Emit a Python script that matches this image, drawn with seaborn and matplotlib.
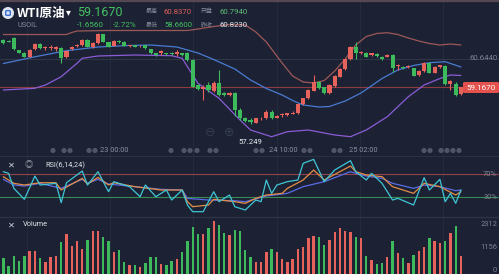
import numpy as np
import pandas as pd
import matplotlib
matplotlib.use("Agg")
import matplotlib.pyplot as plt
import matplotlib.patches as mpatches
from matplotlib.lines import Line2D
import seaborn as sns

# ---------------- data ----------------
opens = [61.66, 61.63, 61.75, 61.11, 60.99, 60.78, 61.17, 61.45, 61.23, 61.22,
         61.21, 61.22, 60.75, 61.21, 61.32, 61.40, 61.685, 61.275, 61.485, 61.95,
         61.54, 61.34, 61.63, 61.57, 61.33, 61.40, 61.32, 61.40, 61.17, 60.96,
         60.95, 60.975, 60.99, 60.92, 60.95, 60.975, 60.61, 59.29, 59.07, 59.29,
         58.97, 59.41, 58.89, 58.765, 58.855, 57.975, 57.54, 57.45, 57.307, 57.53,
         57.54, 57.886, 57.58, 57.686, 57.71, 57.78, 57.80, 58.29, 58.59, 58.99,
         59.465, 59.17, 58.855, 59.24, 59.73, 60.12, 60.644, 61.307, 60.95, 60.99,
         60.87, 60.92, 60.78, 60.78, 60.87, 60.265, 60.255, 60.24, 60.16, 59.80,
         60.03, 60.43, 59.94, 60.22, 60.29, 59.37, 59.345, 58.82]
closes = [61.50, 61.555, 61.17, 61.00, 60.78, 61.13, 61.45, 61.22, 61.265, 61.29,
          61.265, 60.70, 61.10, 61.265, 61.40, 61.685, 61.31, 61.485, 61.975, 61.57,
          61.31, 61.623, 61.555, 61.34, 61.38, 61.31, 61.37, 61.22, 60.96, 60.87,
          61.055, 60.90, 60.90, 61.04, 60.87, 60.61, 59.20, 59.08, 59.185, 59.03,
          59.42, 58.765, 58.765, 58.855, 57.975, 57.54, 57.40, 57.345, 57.54, 57.58,
          57.886, 57.54, 57.67, 57.79, 57.80, 57.83, 58.29, 58.59, 59.03, 59.465,
          59.12, 58.855, 59.29, 59.765, 60.12, 60.644, 61.307, 60.99, 61.03, 60.78,
          60.96, 60.82, 60.644, 60.87, 60.17, 60.344, 60.17, 60.29, 59.79, 60.03,
          60.43, 59.94, 60.255, 60.344, 59.345, 59.50, 58.765, 59.167]
highs = [61.71, 61.66, 61.82, 61.13, 61.03, 61.19, 61.50, 61.50, 61.34, 61.40,
         61.34, 61.29, 61.13, 61.34, 61.45, 61.71, 61.71, 61.555, 62.045, 61.975,
         61.555, 61.66, 61.66, 61.61, 61.42, 61.42, 61.40, 61.42, 61.21, 61.00,
         61.13, 61.00, 61.03, 61.13, 60.975, 61.03, 60.66, 59.34, 59.29, 59.465,
         59.50, 60.08, 58.92, 58.92, 58.90, 58.08, 57.607, 57.53, 57.58, 57.63,
         57.95, 57.975, 57.71, 57.83, 57.84, 57.90, 58.34, 58.63, 59.08, 59.82,
         59.50, 59.21, 59.34, 59.82, 60.16, 60.686, 61.37, 61.57, 61.08, 61.03,
         61.00, 60.95, 60.82, 60.92, 60.90, 60.40, 60.29, 60.344, 60.185, 60.055,
         60.50, 60.475, 60.29, 60.37, 60.344, 59.555, 59.465, 59.21]
lows = [61.45, 61.53, 61.13, 60.97, 60.765, 60.765, 61.13, 61.19, 61.13, 61.13,
        61.08, 60.465, 60.71, 61.13, 61.29, 61.34, 61.29, 61.24, 61.45, 61.555,
        61.29, 61.318, 61.50, 61.32, 61.29, 61.29, 61.265, 61.19, 60.92, 60.84,
        60.87, 60.87, 60.87, 60.84, 60.84, 60.555, 59.185, 59.03, 58.50, 58.92,
        58.90, 58.71, 58.71, 58.71, 57.66, 57.45, 57.345, 57.249, 57.29, 57.475,
        57.486, 57.50, 57.54, 57.63, 57.66, 57.74, 57.765, 58.24, 58.555, 58.95,
        59.08, 58.82, 58.82, 59.185, 59.69, 60.08, 60.607, 60.644, 60.90, 60.74,
        60.82, 60.79, 60.607, 60.74, 59.99, 60.08, 60.13, 60.19, 59.765, 59.765,
        59.975, 59.90, 59.90, 60.19, 59.29, 59.03, 58.71, 58.765]
volumes = [838, 469, 972, 704, 955, 1206, 1206, 838, 637, 921,
           955, 1675, 2044, 1458, 1709, 1290, 1759, 2228, 2211, 1927,
           1709, 1173, 1257, 637, 503, 503, 385, 620, 921, 921,
           553, 503, 720, 804, 1139, 1709, 2429, 2044, 2044, 2379,
           2714, 2513, 2094, 2010, 2262, 2228, 1257, 921, 637, 637,
           1139, 1307, 1139, 787, 637, 804, 1290, 1424, 1843, 1960,
           1893, 1508, 1759, 2144, 2379, 2211, 2144, 1893, 1843, 972,
           754, 536, 620, 888, 1709, 1123, 838, 586, 1005, 1206,
           1424, 1843, 1726, 1591, 1709, 2128, 2480, 972]

boll_up_idx = [0, 12, 13, 14, 20, 26, 35, 37, 40, 43, 46, 48, 50, 53, 55, 57, 59, 61, 63,
               65, 67, 69, 71, 73, 75, 77, 79, 81, 83, 85, 87]
boll_up = [61.949, 61.949, 62.054, 62.133, 62.160, 62.160, 62.160, 62.239, 62.370, 62.476,
           62.449, 62.081, 61.554, 60.449, 59.765, 59.449, 59.397, 59.528, 60.028,
           60.660, 61.397, 61.844, 62.002, 62.044, 61.949, 61.765, 61.607, 61.476,
           61.397, 61.449, 61.397]
boll_mid_idx = [0, 6, 12, 18, 24, 28, 33, 37, 40, 44, 47, 50, 53, 55, 57, 60, 62, 65, 68,
                72, 75, 78, 81, 84, 87]
boll_mid = [60.423, 60.776, 61.097, 61.291, 61.370, 61.397, 61.291, 60.976, 60.633, 60.133,
            59.555, 59.107, 58.765, 58.476, 58.239, 58.133, 58.160, 58.449, 58.870,
            59.633, 60.081, 60.318, 60.465, 60.518, 60.239]
boll_low_idx = [0, 6, 8, 11, 14, 15, 18, 25, 32, 34, 37, 41, 45, 47, 51, 54, 58, 63, 66,
                69, 73, 77, 80, 83, 85, 87]
boll_low = [59.028, 59.118, 59.291, 59.728, 60.433, 60.697, 60.818, 60.870, 60.833, 60.697,
            59.381, 58.591, 57.449, 56.923, 56.570, 56.833, 56.923, 56.660, 56.570,
            56.923, 57.623, 58.675, 59.291, 59.633, 59.818, 59.791]

rsi6_idx = [0, 1, 2, 4, 6, 7, 10, 11, 12, 15, 16, 18, 20, 21, 24, 26, 27, 29, 31, 32, 34,
            35, 36, 38, 40, 41, 43, 44, 46, 48, 49, 50, 51, 52, 54, 56, 57, 59, 61, 63,
            66, 67, 69, 70, 72, 74, 75, 78, 80, 81, 83, 84, 85, 86, 87]
rsi6 = [74.6, 71.7, 45.6, 26.5, 67.0, 51.4, 54.3, 20.7, 55.4, 75.7, 51.4, 74.6, 39.8, 57.2,
        48.5, 31.1, 51.4, 31.1, 42.7, 25.3, 42.7, 16.6, 5.0, 5.0, 39.8, 22.4, 34.0, 13.7,
        7.9, 25.3, 22.4, 60.1, 36.9, 51.4, 57.2, 60.1, 89.1, 96.0, 57.2, 77.5, 93.7, 74.6,
        60.1, 71.7, 54.3, 25.3, 28.2, 16.6, 64.1, 42.7, 61.3, 22.4, 36.9, 19.6, 42.7]
rsi14_idx = [0, 2, 4, 7, 10, 11, 15, 16, 18, 20, 21, 25, 30, 34, 35, 36, 39, 40, 44, 46, 48,
             50, 53, 54, 57, 59, 61, 66, 67, 69, 72, 74, 78, 80, 83, 86, 87]
rsi14 = [65.9, 54.3, 51.4, 55.4, 55.4, 42.7, 63.0, 53.1, 64.7, 51.4, 55.4, 48.5, 42.7, 42.7,
         22.4, 13.7, 16.6, 26.5, 22.4, 19.5, 28.2, 34.0, 36.9, 45.6, 60.1, 77.5, 60.1, 84.4,
         74.6, 68.8, 65.9, 48.5, 36.9, 54.3, 48.5, 34.0, 39.8]
rsi24_idx = [0, 2, 4, 7, 11, 15, 16, 18, 20, 25, 30, 34, 35, 39, 44, 46, 50, 54, 57, 61, 66,
             67, 69, 72, 74, 78, 80, 83, 86, 87]
rsi24 = [61.3, 51.4, 49.7, 54.3, 45.6, 61.3, 54.3, 61.3, 53.1, 48.5, 43.9, 42.7, 28.2, 25.3,
         24.1, 22.4, 32.3, 36.9, 48.5, 57.2, 74.6, 71.7, 67.0, 63.0, 54.3, 45.6, 51.4, 48.5,
         41.5, 42.7]

last_price = 59.1670
grid_price = 60.6440
low_idx, low_price = 47, 57.249
vol_ticks = [2312, 1156, 0]
rsi_levels = [70, 30]
time_labels = ["23 00:00", "24 10:00", "25 02:00"]

# ---------------- style ----------------
BG = "#1c2233"
RED = "#e7625b"
GREEN = "#3dbb5c"
GRAY = "#848a98"
sns.set_style("dark")
plt.rcParams["font.family"] = ["Noto Sans CJK SC", "DejaVu Sans"]
plt.rcParams["axes.facecolor"] = BG

W, H = 499, 274
fig = plt.figure(figsize=(W / 100, H / 100), dpi=100)
fig.patch.set_facecolor(BG)


def fx(px):
    return px / W


def fy(py):
    return 1 - py / H


X0, DX = 3.33, 5.26
XLIM = (-X0 / DX, (W - X0) / DX)
GRID_X = [(p - X0) / DX for p in (26.7, 110, 193.3, 276.7, 360, 443.3)]

ax = fig.add_axes([0, fy(155), 1, 155 / H])
axr = fig.add_axes([0, fy(216), 1, 61 / H])
axv = fig.add_axes([0, 0, 1, 58 / H])
for a in (ax, axr, axv):
    a.set_facecolor(BG)
    for s in a.spines.values():
        s.set_visible(False)
    for gx in GRID_X:
        a.axvline(gx, color="#262d40", lw=0.6, zorder=0)

idx = np.arange(len(opens))
o, c = np.array(opens), np.array(closes)
up = c >= o
cols = np.where(up, RED, GREEN)

# ---- main price panel ----
ax.axhline(grid_price, color="#323a4d", lw=0.6, zorder=0)
ax.axhline(last_price, xmax=463 / W, color="#8e3c42", lw=0.8, zorder=1)
sns.lineplot(x=boll_up_idx, y=boll_up, ax=ax, color="#9c5858", lw=0.9, zorder=2)
sns.lineplot(x=boll_mid_idx, y=boll_mid, ax=ax, color="#4a7bd2", lw=0.9, zorder=2)
sns.lineplot(x=boll_low_idx, y=boll_low, ax=ax, color="#8a5cd6", lw=0.9, zorder=2)
ax.vlines(idx, lows, highs, colors=cols, lw=0.8, zorder=3)
body_lo = np.minimum(o, c)
body_h = np.maximum(np.abs(c - o), 0.025)
ax.bar(idx, body_h, bottom=body_lo, width=0.78, color=cols, linewidth=0, zorder=4)
ax.set_xlim(XLIM)
ax.set_ylim(55.607, 63.765)
ax.set_xticks([]); ax.set_yticks([])
ax.set_xlabel(""); ax.set_ylabel("")
ax.annotate(f"{low_price:.3f}", (low_idx, low_price), xytext=(0, -13),
            textcoords="offset points", ha="center", va="center",
            color="#e8ebf0", fontsize=5.6, family=["Roboto", "DejaVu Sans"])
for zx, sym in ((210, "⊖"), (229, "⊕")):
    fig.text(fx(zx), fy(132), sym, color="#353c4f", fontsize=9, ha="center",
             va="center", family=["DejaVu Sans"])

# ---- RSI panel ----
axr.axhline(rsi_levels[0], color="#8f4448", lw=0.8, zorder=1)
axr.axhline(rsi_levels[1], color="#3a8a56", lw=0.8, zorder=1)
sns.lineplot(x=rsi24_idx, y=rsi24, ax=axr, color="#5a6ce6", lw=0.9, zorder=2)
sns.lineplot(x=rsi14_idx, y=rsi14, ax=axr, color="#e38c45", lw=0.9, zorder=3)
sns.lineplot(x=rsi6_idx, y=rsi6, ax=axr, color="#3fc6d6", lw=0.9, zorder=4)
axr.set_xlim(XLIM)
axr.set_ylim(-2.5, 103.6)
axr.set_xticks([]); axr.set_yticks([])
axr.set_xlabel(""); axr.set_ylabel("")

# ---- volume panel ----
df_vol = pd.DataFrame({"idx": idx, "vol": volumes,
                       "dir": np.where(up, "up", "down")})
sns.barplot(data=df_vol, x="idx", y="vol", hue="dir",
            palette={"up": RED, "down": GREEN}, dodge=False, width=0.45,
            saturation=1, legend=False, linewidth=0, ax=axv)
axv.set_xlim(XLIM)
axv.set_ylim(50.3, 2965)
axv.set_xticks([]); axv.set_yticks([])
axv.set_xlabel(""); axv.set_ylabel("")

# ---- separators / border ----
fig.add_artist(Line2D([0, 1], [fy(0.8)] * 2, color="#564852", lw=1.6))
fig.add_artist(Line2D([0, 1], [fy(156)] * 2, color="#2a3144", lw=0.8))
fig.add_artist(Line2D([0, 1], [fy(216.5)] * 2, color="#2e3548", lw=0.9))

NUM = ["Roboto", "Noto Sans CJK SC"]
CJK = ["Noto Sans CJK SC", "DejaVu Sans"]

# ---- header ----
fig.add_artist(mpatches.Circle((8 / 100, (H - 13) / 100), 6 / 100,
                               transform=fig.dpi_scale_trans, fc="#dfe5f0", ec="none"))
fig.add_artist(mpatches.FancyBboxPatch(((8 - 2.3) / 100, (H - 13 - 2.3) / 100),
                                       4.6 / 100, 4.6 / 100,
                                       boxstyle="round,pad=0,rounding_size=0.008",
                                       transform=fig.dpi_scale_trans,
                                       fc="#dfe5f0", ec="#3b6fd6", lw=1.0))
fig.text(fx(17), fy(13), "WTI原油", color="white", fontsize=9, fontweight="bold",
         family=CJK, va="center", ha="left")
fig.text(fx(66), fy(12), "▾", color="white", fontsize=7, family=["DejaVu Sans"],
         va="center", ha="left")
fig.text(fx(77), fy(13), "59.1670", color="#44c061", fontsize=9, family=NUM,
         va="center", ha="left")
fig.text(fx(18), fy(25.5), "USOIL", color=GRAY, fontsize=5.3, family=NUM,
         va="center", ha="left")
fig.text(fx(77), fy(25), "-1.6560", color="#44c061", fontsize=5.8, family=NUM,
         va="center", ha="left")
fig.text(fx(113), fy(25), "-2.72%", color="#44c061", fontsize=5.8, family=NUM,
         va="center", ha="left")
for (x0, y0, lab, val, vc) in ((146, 11.5, "最高", "60.8370", "#e0605a"),
                               (201, 11.5, "开盘", "60.7940", "#5fbf7a"),
                               (146, 25, "最低", "58.6600", "#44c061"),
                               (201, 25, "昨收", "60.8230", "#e6e8ee")):
    fig.text(fx(x0), fy(y0), lab, color=GRAY, fontsize=4.3, family=CJK,
             va="center", ha="left")
    fig.text(fx(x0 + 18), fy(y0), val, color=vc, fontsize=5.6, family=NUM,
             va="center", ha="left")

# ---- right side labels ----
fig.text(fx(498), fy(58.5), f"{grid_price:.4f}", color="#7e8493", fontsize=5.6,
         family=NUM, va="center", ha="right")
fig.add_artist(mpatches.FancyBboxPatch((fx(463), fy(93)), fx(36), 11 / H,
                                       boxstyle="round,pad=0,rounding_size=0.004",
                                       fc="#e3524d", ec="none"))
fig.text(fx(481), fy(87.5), f"{last_price:.4f}", color="white", fontsize=5.8,
         family=NUM, va="center", ha="center")
for lvl, ypx in zip(rsi_levels, (174.5, 197.5)):
    fig.text(fx(497), fy(ypx), f"{lvl}%", color="#7e8493", fontsize=5.4,
             family=NUM, va="center", ha="right")
for v, ypx in zip(vol_ticks, (224, 247.7, 270)):
    fig.text(fx(497), fy(ypx), f"{v}", color="#7e8493", fontsize=5.4,
             family=NUM, va="center", ha="right")

# ---- panel headers ----
fig.text(fx(8), fy(165), "✕", color="#c9ced8", fontsize=6, family=["DejaVu Sans"],
         va="center", ha="left")
fig.text(fx(29), fy(165), "◎", color="#9aa0ad", fontsize=6, family=CJK,
         va="center", ha="center")
fig.text(fx(45), fy(165), "RSI(6,14,24)", color="#dfe2e8", fontsize=5.3, family=NUM,
         va="center", ha="left")
fig.text(fx(8), fy(225.5), "✕", color="#c9ced8", fontsize=6, family=["DejaVu Sans"],
         va="center", ha="left")
fig.text(fx(23), fy(225), "Volume", color="#dfe2e8", fontsize=5.3, family=NUM,
         va="center", ha="left")

# ---- time axis ----
for lab, xpx in zip(time_labels, (100, 269, 349)):
    fig.text(fx(xpx), fy(150.5), lab, color="#8a909e", fontsize=5.3, family=NUM,
             va="center", ha="left")
for bx in (53, 64, 70, 89, 95, 171, 184, 190, 197, 210, 216, 256, 262, 304, 310,
           334, 340, 424, 430, 441, 447, 453, 459):
    fig.add_artist(mpatches.Circle((bx / 100, (H - 150.5) / 100), 2.6 / 100,
                                   transform=fig.dpi_scale_trans,
                                   fc="#9097a6", ec="none", alpha=0.45))

fig.savefig("out.png", dpi=100, facecolor=BG)
